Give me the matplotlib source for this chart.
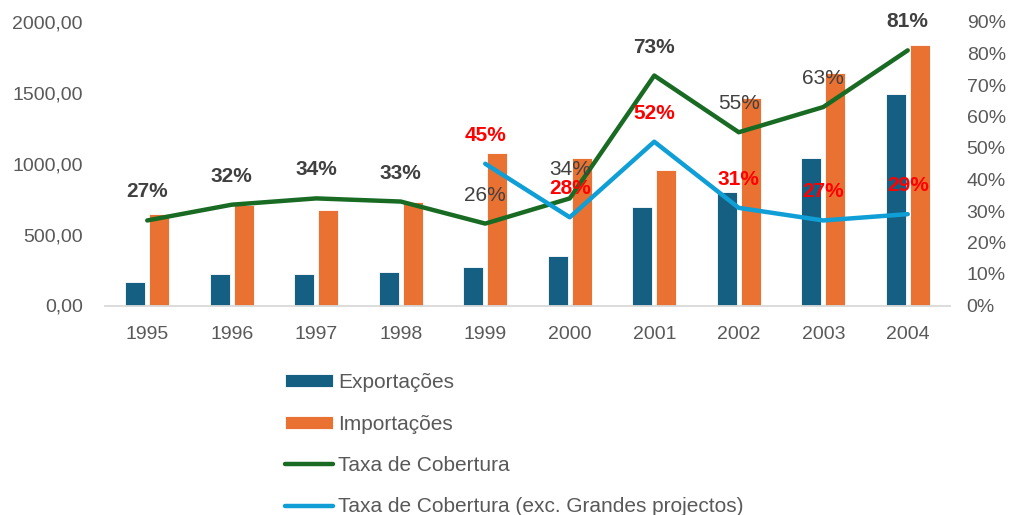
import matplotlib
matplotlib.use("Agg")
import matplotlib.pyplot as plt
from matplotlib.ticker import FuncFormatter
import numpy as np

plt.rcParams['font.family'] = ['Liberation Sans', 'DejaVu Sans']

years = ['1995', '1996', '1997', '1998', '1999', '2000', '2001', '2002', '2003', '2004']
exportacoes = [167, 219, 219, 235, 271, 351, 695, 800, 1040, 1493]
importacoes = [643, 707, 671, 728, 1076, 1044, 954, 1465, 1640, 1840]
taxa = [0.27, 0.32, 0.34, 0.33, 0.26, 0.34, 0.73, 0.55, 0.63, 0.81]
taxa_exc_years = ['1999', '2000', '2001', '2002', '2003', '2004']
taxa_exc = [0.45, 0.28, 0.52, 0.31, 0.27, 0.29]
# labels that look lighter in the original
light_labels = ['1999', '2000', '2002', '2003']

c_exp = '#156082'
c_imp = '#E97132'
c_green = '#196B24'
c_blue = '#0F9ED5'
grey = '#595959'

fig = plt.figure(figsize=(10.11, 5.15), dpi=100)
ax = fig.add_axes([105/1011, 1 - 305.5/515, 845/1011, 283.5/515])
ax2 = ax.twinx()

x = np.arange(len(years))
w = 0.235
b1 = ax.bar(x - 0.14, exportacoes, w, color=c_exp, edgecolor='white', linewidth=0.6, label='Exportações')
b2 = ax.bar(x + 0.14, importacoes, w, color=c_imp, edgecolor='white', linewidth=0.6, label='Importações')

l1, = ax2.plot(x, taxa, color=c_green, lw=3.2, label='Taxa de Cobertura', solid_capstyle='round')
xe = [years.index(y) for y in taxa_exc_years]
l2, = ax2.plot(xe, taxa_exc, color=c_blue, lw=3.2, label='Taxa de Cobertura (exc. Grandes projectos)',
               solid_capstyle='round')

for i, v in enumerate(taxa):
    wt = 'medium' if years[i] in light_labels else 'bold'
    ax2.annotate(f'{v*100:.0f}%', (x[i], v), xytext=(0, 20.5), textcoords='offset points',
                 ha='center', va='center', fontsize=15, color='#404040', fontweight=wt)
for i, v in zip(xe, taxa_exc):
    ax2.annotate(f'{v*100:.0f}%', (i, v), xytext=(0, 20.5), textcoords='offset points',
                 ha='center', va='center', fontsize=15, color='red', fontweight='bold')

ax.set_xlim(-0.5, 9.5)
ax.set_ylim(0, 2000)
ax2.set_ylim(0, 0.9)
ax.set_yticks(np.arange(0, 2001, 500))
ax2.set_yticks(np.arange(0, 0.91, 0.1))
ax.yaxis.set_major_formatter(FuncFormatter(lambda v, p: f'{v:.2f}'.replace('.', ',')))
ax2.yaxis.set_major_formatter(FuncFormatter(lambda v, p: f'{v*100:.0f}%'))
ax.set_xticks(x)
ax.set_xticklabels(years)

for a in (ax, ax2):
    for s in ('top', 'left', 'right', 'bottom'):
        a.spines[s].set_visible(False)
    a.tick_params(length=0, labelsize=14, labelcolor=grey)
ax.spines['bottom'].set_visible(True)
ax.spines['bottom'].set_color('#D9D9D9')
ax.spines['bottom'].set_linewidth(1.3)
ax.tick_params(axis='y', pad=16)
ax.tick_params(axis='x', pad=15)
ax2.tick_params(axis='y', pad=12)

fig.legend([b1, b2, l1, l2],
           ['Exportações', 'Importações', 'Taxa de Cobertura', 'Taxa de Cobertura (exc. Grandes projectos)'],
           loc='upper left', bbox_to_anchor=(285/1011, 1 - 373/515), frameon=False,
           fontsize=15, labelcolor=grey, borderpad=0, borderaxespad=0,
           handlelength=2.3, handleheight=0.6, handletextpad=0.25, labelspacing=1.08)

fig.savefig('out.png', dpi=100)
